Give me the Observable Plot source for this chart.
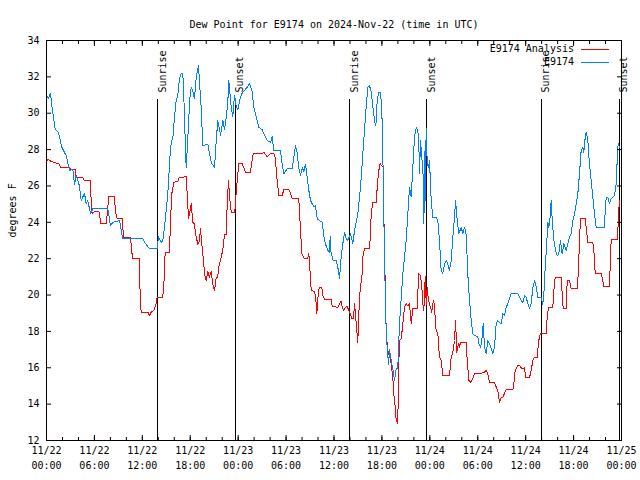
<!DOCTYPE html>
<html><head><meta charset="utf-8">
<script src="https://cdn.jsdelivr.net/npm/d3@7"></script>
<script src="https://cdn.jsdelivr.net/npm/@observablehq/plot@0.6"></script>
<style>body{margin:0;background:#fff} svg{display:block}</style>
</head><body><div id="chart"></div>
<script>
// ---- data (hours since 2024-11-22 00:00 UTC, dew point in °F) ----
const titleText = "Dew Point for E9174 on 2024-Nov-22 (time in UTC)";
const yLabel = "degrees F";
const seriesNames = ["E9174 Analysis", "E9174"];
const seriesColors = ["#ff0000", "#0080ff"];
const yTicks = [12, 14, 16, 18, 20, 22, 24, 26, 28, 30, 32, 34];

const analysisHours = [0.0,0.25,0.6,1.63,1.75,2.88,3.09,3.59,3.72,4.55,4.76,5.51,5.6,5.72,6.01,6.64,6.76,7.48,7.68,7.8,8.51,8.64,8.85,9.48,9.64,10.52,10.68,10.81,11.65,11.73,11.86,12.68,12.9,13.11,13.44,13.74,13.86,14.56,14.69,14.86,15.4,15.53,15.69,15.94,16.44,16.65,17.49,17.62,17.78,17.99,18.12,18.32,18.53,18.62,18.75,18.95,19.16,19.28,19.45,19.62,19.79,20.0,20.2,20.41,20.62,20.83,21.04,21.25,21.45,21.54,21.88,22.08,22.29,22.54,22.62,22.79,22.91,23.13,23.58,23.67,23.88,24.08,24.5,24.71,24.92,25.54,25.75,25.88,27.01,27.21,27.64,28.05,28.46,28.67,28.8,29.09,29.51,29.71,30.34,30.55,30.77,31.59,31.81,31.97,32.31,32.68,32.85,32.97,33.15,33.56,33.72,33.85,33.97,34.15,34.47,34.65,34.9,35.65,35.77,36.48,36.69,36.9,37.02,37.22,37.44,37.65,37.85,38.02,38.23,38.44,38.57,38.69,38.82,38.98,39.11,39.23,39.41,39.53,39.61,39.82,40.45,40.57,40.66,40.86,41.29,41.41,41.57,41.78,41.99,42.2,42.24,42.32,42.45,42.54,42.74,42.86,43.04,43.16,43.36,43.49,43.66,43.79,43.99,44.08,44.2,44.42,44.62,44.83,45.04,45.24,45.45,45.67,45.87,46.42,46.49,46.62,46.83,47.0,47.12,47.25,47.42,47.46,47.54,47.67,47.83,48.08,48.24,48.37,48.5,48.67,48.79,49.0,49.21,49.42,49.62,50.46,50.68,50.88,51.09,51.22,51.38,51.59,51.71,51.84,52.56,52.68,52.89,53.09,53.38,53.59,54.43,54.85,55.06,55.26,55.47,56.1,56.31,56.51,56.72,56.94,57.14,57.56,58.39,58.52,58.69,59.02,59.23,59.44,59.64,59.86,59.98,60.48,60.69,60.9,61.11,61.44,61.64,61.86,62.57,62.7,62.86,63.4,63.53,63.7,64.45,64.57,64.7,65.08,65.2,65.49,65.7,66.45,66.61,66.74,66.86,67.46,67.58,67.78,68.41,68.54,68.71,69.46,69.58,69.79,70.5,70.59,70.71,71.46,71.54,71.66,71.75];
const analysisDewF = [27.4,27.45,27.35,27.2,27.0,27.0,26.9,26.9,26.45,26.45,26.3,26.3,25.02,24.47,24.6,24.56,23.92,23.92,24.83,25.42,25.42,24.56,24.19,24.19,23.18,23.18,22.36,22.0,22.0,19.79,19.06,19.06,18.87,19.06,19.15,19.52,19.88,19.88,20.52,22.36,22.36,24.1,25.57,26.2,26.25,26.48,26.5,25.57,24.19,24.65,25.02,24.0,23.9,23.55,23.2,22.78,23.0,23.64,22.8,22.08,21.17,20.8,21.3,20.98,21.3,20.6,20.25,20.98,20.98,21.5,22.08,22.5,23.33,23.35,25.02,26.3,25.47,24.56,24.56,25.2,26.3,27.22,27.22,27.0,26.76,26.76,27.4,27.77,27.77,27.86,27.6,27.8,27.8,27.5,26.67,25.47,25.47,25.79,25.79,25.6,25.29,25.29,23.55,22.27,22.0,22.0,22.27,21.53,20.25,20.2,19.78,18.97,19.8,20.4,20.4,19.88,19.74,19.74,19.37,19.33,19.52,19.66,19.33,19.15,19.33,19.37,19.15,18.97,18.7,18.7,19.52,18.97,18.24,17.41,18.97,20.07,20.8,21.17,22.08,22.54,22.54,23.37,24.47,25.07,25.07,25.93,26.76,27.22,27.1,27.05,24.47,22.45,19.88,17.9,16.95,16.75,16.49,16.2,15.48,14.57,13.84,13.1,12.92,15.67,17.5,17.6,18.42,19.33,19.52,19.42,19.52,18.42,19.24,19.24,20.07,21.17,21.08,20.43,19.52,19.15,20.98,21.0,19.5,20.43,19.7,19.33,19.06,19.52,19.7,18.78,18.05,17.87,16.58,16.4,15.57,15.57,16.58,16.86,17.5,18.6,16.86,17.32,17.13,17.41,17.41,16.4,15.3,15.2,15.39,15.67,15.7,15.76,15.85,15.67,15.21,15.21,14.94,14.76,14.11,14.39,14.39,14.79,14.79,15.12,15.85,16.12,16.12,16.0,15.94,16.03,15.45,15.45,15.85,16.4,16.58,16.58,17.5,17.9,17.9,18.78,19.33,19.33,20.25,20.98,20.98,20.07,19.24,19.24,20.8,20.8,20.34,20.34,21.35,23.0,24.19,24.19,23.7,22.91,22.91,22.45,21.17,21.17,20.98,20.47,20.47,21.7,23.07,23.07,23.5,24.65,25.2];

const obsHours = [0.0,0.25,0.5,0.66,0.79,1.09,1.5,1.92,2.46,2.88,3.3,3.51,3.72,4.13,4.34,4.76,4.97,5.17,5.51,5.8,7.68,8.01,8.3,9.14,9.55,12.06,12.27,12.9,13.86,14.02,14.36,14.56,14.78,15.19,15.53,15.69,15.81,16.03,16.24,16.44,16.65,16.87,17.07,17.19,17.37,17.49,17.62,17.78,17.94,18.12,18.32,18.53,18.75,19.03,19.2,19.37,19.57,20.2,20.41,20.62,21.04,21.25,21.45,21.79,22.08,22.29,22.5,22.7,22.83,23.13,23.33,23.54,23.75,23.96,24.29,24.5,25.13,25.42,25.75,25.96,26.58,27.0,27.21,27.64,28.05,28.26,28.46,29.3,29.51,29.71,30.14,30.77,30.97,31.18,31.39,31.59,31.81,32.02,32.22,32.43,32.64,32.85,33.06,33.47,33.68,33.9,34.52,34.81,35.02,35.22,35.44,35.52,35.6,35.9,36.28,36.48,36.69,36.9,37.1,37.32,37.53,37.73,38.07,38.36,38.57,38.78,38.98,39.32,39.61,39.82,40.03,40.23,40.45,40.66,40.86,41.07,41.24,41.41,41.61,41.82,41.99,42.16,42.32,42.54,42.66,42.83,42.95,43.16,43.36,43.58,43.79,43.99,44.2,44.62,45.04,45.45,45.67,45.87,46.08,46.29,46.49,46.62,46.71,46.83,47.0,47.17,47.25,47.42,47.46,47.54,47.67,47.83,47.96,48.17,48.37,48.8,49.0,49.21,49.42,49.62,49.84,50.05,50.25,50.46,50.68,50.88,51.09,51.22,51.43,51.63,51.93,52.13,52.35,52.56,52.75,52.97,53.18,53.38,53.59,54.01,54.13,54.35,54.51,54.68,54.85,55.06,55.26,55.47,55.68,55.89,56.1,56.31,56.51,56.72,56.94,57.14,57.35,57.56,57.76,57.98,58.19,59.02,59.23,59.44,59.64,59.86,60.07,60.27,60.48,60.69,60.9,61.11,61.32,61.52,61.94,62.15,62.28,62.45,62.61,62.78,62.9,63.03,63.2,63.33,63.53,63.74,63.95,64.15,64.36,64.57,64.78,65.08,65.28,65.49,65.7,65.91,66.12,66.33,66.53,66.74,66.95,67.16,67.28,67.46,67.58,67.78,67.99,68.2,68.41,68.62,68.83,69.87,69.96,70.09,70.29,70.5,70.71,70.91,71.12,71.33,71.46,71.58,71.75];
const obsDewF = [31.0,30.8,31.1,30.4,30.06,29.1,28.95,28.13,27.67,26.85,26.9,26.1,26.6,25.99,25.2,25.6,25.0,25.2,24.47,24.74,24.74,23.82,24.0,24.1,23.09,23.09,22.9,22.54,22.54,23.2,22.9,23.0,23.73,25.57,28.13,28.5,28.6,29.78,30.7,31.0,31.9,32.17,32.17,31.0,28.5,27.0,28.0,29.4,30.8,31.43,31.2,30.8,31.98,32.62,31.4,30.33,28.22,28.3,27.8,27.3,27.0,28.5,29.6,28.8,29.6,29.1,29.75,30.6,31.8,30.3,29.8,31.0,30.4,30.2,30.88,31.1,31.43,31.65,31.2,30.33,29.23,29.1,28.87,28.5,28.4,28.7,27.95,27.95,27.2,26.67,26.94,26.94,27.58,28.22,27.8,27.0,26.6,27.0,26.8,27.2,26.5,25.75,25.2,24.85,24.9,24.19,24.0,23.0,22.7,22.45,22.36,23.2,22.4,21.9,21.9,21.53,20.9,22.08,22.8,23.46,23.1,23.0,23.37,22.82,23.55,24.0,24.47,25.93,27.76,29.05,30.33,31.43,31.5,31.2,30.4,29.6,29.3,30.7,31.16,31.16,30.15,26.67,22.08,17.87,17.13,16.2,17.0,16.4,15.94,15.3,15.94,16.0,18.42,21.17,23.0,25.93,25.4,27.03,28.68,29.2,29.1,28.3,26.7,28.5,27.58,26.5,23.92,28.5,25.2,29.14,27.31,27.0,27.4,25.2,24.28,24.28,24.1,23.0,21.35,21.2,21.7,21.9,21.7,21.35,21.9,23.18,24.28,25.2,24.1,23.37,23.73,23.37,23.73,23.28,21.17,19.7,18.6,17.87,17.78,17.7,17.32,17.13,17.5,18.42,17.13,16.77,17.5,17.32,17.04,16.77,17.13,18.42,18.6,18.5,18.42,18.97,18.88,19.33,19.52,19.79,20.07,20.07,19.88,19.7,19.6,19.97,19.88,19.52,19.24,19.52,20.43,20.8,20.43,19.88,19.88,19.5,20.07,21.53,22.63,24.0,23.73,24.1,25.2,24.1,23.0,22.45,22.17,22.26,23.0,22.26,22.82,22.45,22.82,23.18,23.37,24.1,24.47,25.02,25.57,26.67,27.95,28.13,27.86,28.68,28.96,28.5,27.2,26.3,25.38,24.47,23.73,23.73,24.65,25.38,25.38,25.02,25.29,25.38,25.47,26.1,27.4,28.32,28.13];

const sunHours = [13.95, 23.63, 37.98, 47.62, 61.92, 71.72];
const sunLabels = ["Sunrise", "Sunset", "Sunrise", "Sunset", "Sunrise", "Sunset"];

// ---- build ----
const start = Date.UTC(2024, 10, 22);
const toDate = h => new Date(start + h * 3600e3);
const analysis = analysisHours.map((h, i) => ({t: toDate(h), v: analysisDewF[i]}));
const obs = obsHours.map((h, i) => ({t: toDate(h), v: obsDewF[i]}));
const sun = sunHours.map((h, i) => ({t: toDate(h), label: sunLabels[i]}));
const font = "DejaVu Sans Mono, monospace";
const majorX = d3.utcHour.every(6).range(toDate(0), toDate(72.01));
const minorX = d3.utcHour.every(2).range(toDate(0), toDate(72.01));

function legend(index, scales, values, dim) {
  const g = d3.create("svg:g").attr("font-family", font).attr("font-size", 10);
  const right = dim.width - dim.marginRight;
  seriesNames.forEach((name, i) => {
    const y = dim.marginTop + 9 + i * 13;
    g.append("text").attr("x", right - 47).attr("y", y).attr("dy", "0.32em")
      .attr("text-anchor", "end").attr("fill", "black").text(name);
    g.append("line").attr("x1", right - 40).attr("x2", right - 12)
      .attr("y1", y + 0.5).attr("y2", y + 0.5).attr("stroke", seriesColors[i]);
  });
  return g.node();
}

const chart = Plot.plot({
  width: 640, height: 480,
  marginLeft: 46, marginRight: 19, marginTop: 40, marginBottom: 40,
  style: {fontFamily: font, fontSize: "10px", background: "white", color: "black", overflow: "visible"},
  x: {type: "utc", domain: [toDate(0), toDate(72)]},
  y: {domain: [12, 34]},
  marks: [
    Plot.ruleX(sun, {x: "t", stroke: "black", strokeWidth: 1, insetTop: 59, shapeRendering: "crispEdges"}),
    Plot.line(analysis, {x: "t", y: "v", stroke: seriesColors[0], strokeWidth: 1, shapeRendering: "crispEdges"}),
    Plot.line(obs, {x: "t", y: "v", stroke: seriesColors[1], strokeWidth: 1, shapeRendering: "crispEdges"}),
    Plot.frame({stroke: "black"}),
    // y axes
    Plot.axisY({ticks: yTicks, tickSize: 0, tickPadding: 7, label: null}),
    Plot.axisY({ticks: yTicks, tickSize: 5, dx: 5, tickFormat: () => "", label: null}),
    Plot.axisY({anchor: "right", ticks: yTicks, tickSize: 5, dx: -5, tickFormat: () => "", label: null}),
    // x axes
    Plot.axisX({ticks: majorX, tickSize: 0, tickPadding: 6, tickFormat: d3.utcFormat("%m/%d"), label: null}),
    Plot.axisX({ticks: majorX, tickSize: 0, tickPadding: 21, tickFormat: d3.utcFormat("%H:%M"), label: null}),
    Plot.axisX({ticks: minorX, tickSize: 3, dy: -3, tickFormat: () => "", label: null}),
    Plot.axisX({ticks: majorX, tickSize: 5, dy: -5, tickFormat: () => "", label: null}),
    Plot.axisX({anchor: "top", ticks: minorX, tickSize: 3, dy: 3, tickFormat: () => "", label: null}),
    Plot.axisX({anchor: "top", ticks: majorX, tickSize: 5, dy: 5, tickFormat: () => "", label: null}),
    // sunrise / sunset labels
    Plot.text(sun, {x: "t", text: "label", frameAnchor: "top", rotate: -90, textAnchor: "start", dy: 52, dx: 1, fill: "black"}),
    // titles
    Plot.text([titleText], {frameAnchor: "top", dy: -20, fill: "black"}),
    Plot.text([yLabel], {frameAnchor: "left", rotate: -90, dx: -34, dy: -3, fill: "black"}),
    legend
  ]
});
document.getElementById("chart").appendChild(chart);
</script>
</body></html>
